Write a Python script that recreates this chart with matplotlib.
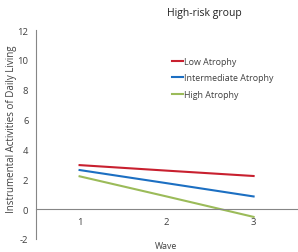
import matplotlib
matplotlib.use("Agg")
import matplotlib.pyplot as plt

waves = [1, 2, 3]
wave_labels = ["1", "2", "3"]
low = [2.95, 2.58, 2.22]
intermediate = [2.62, 1.74, 0.85]
high = [2.2, 0.85, -0.52]
series_names = ["Low Atrophy", "Intermediate Atrophy", "High Atrophy"]
colors = ["#C8202F", "#1C6FC2", "#9BBB59"]
yticks = [-2, 0, 2, 4, 6, 8, 10, 12]

plt.rcParams['font.family'] = ['Open Sans', 'DejaVu Sans']
fig = plt.figure(figsize=(2.98, 2.53), dpi=100)
ax = fig.add_axes([0.121, 0.0514, 0.876, 0.826])

for vals, name, c in zip([low, intermediate, high], series_names, colors):
    ax.plot(waves, vals, color=c, lw=1.5, label=name)

ax.set_xlim(0.5, 3.5)
ax.set_ylim(-2, 12)
ax.set_yticks(yticks)
ax.set_yticklabels([str(t) for t in yticks])
ax.set_xticks(waves)
ax.set_xticklabels(wave_labels)

gray = "#868686"
for s in ["top", "right"]:
    ax.spines[s].set_visible(False)
ax.spines["bottom"].set_position(("data", 0))
ax.spines["left"].set_color(gray)
ax.spines["bottom"].set_color(gray)
ax.tick_params(axis="both", length=0, labelsize=6.8, colors="#404040")
ax.tick_params(axis="y", pad=5.5)
ax.tick_params(axis="x", pad=6)

fig.text(0.685, 0.945, "High-risk group", ha="center", va="center", fontsize=7.5, color="#222222")
fig.text(0.04, 0.49, "Instrumental Activities of Daily Living", rotation=90,
         ha="center", va="center", fontsize=7, color="#404040")
fig.text(0.557, 0.024, "Wave", ha="center", va="center", fontsize=6.3, color="#404040")

leg = ax.legend(loc="upper left", bbox_to_anchor=(0.49, 0.91), frameon=False,
                fontsize=6.4, handlelength=1.25, handletextpad=0.15, labelspacing=0.85,
                labelcolor="#404040")

fig.savefig("out.png", dpi=100)
